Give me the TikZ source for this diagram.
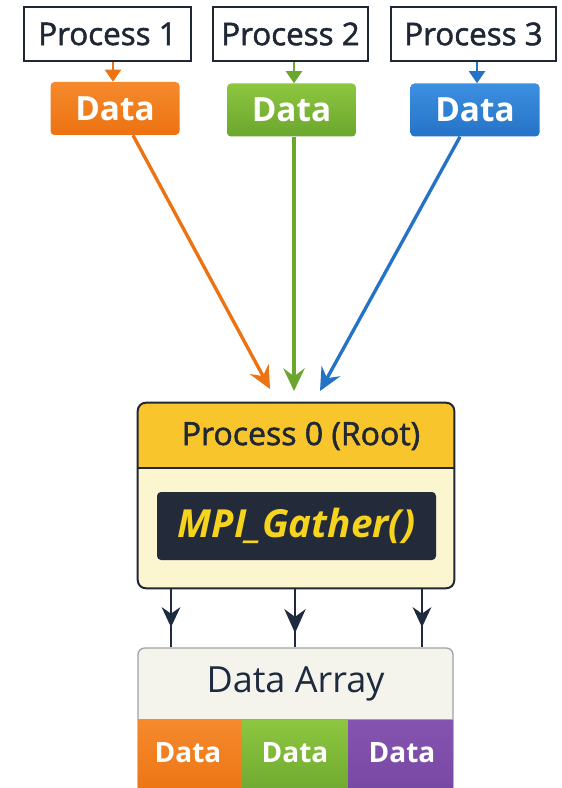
\documentclass[tikz,border=0pt]{standalone}
\usepackage{fontspec}
\setmainfont{Open Sans}
\newfontfamily\mediumfont[FakeBold=1.6]{Open Sans}
\usetikzlibrary{arrows.meta,decorations.markings,calc}

\definecolor{ink}{HTML}{1E2733}
\definecolor{navy}{HTML}{1E2A3E}
\definecolor{orangeA}{HTML}{F58A2C}
\definecolor{orangeB}{HTML}{EC7212}
\definecolor{greenA}{HTML}{8DC63F}
\definecolor{greenB}{HTML}{6BA62E}
\definecolor{blueA}{HTML}{3D8FE0}
\definecolor{blueB}{HTML}{2573C7}
\definecolor{purpleA}{HTML}{8554B0}
\definecolor{purpleB}{HTML}{7646A3}
\definecolor{rootHead}{HTML}{F8C52C}
\definecolor{rootBody}{HTML}{FBF5D0}
\definecolor{gatherBg}{HTML}{232B3B}
\definecolor{gatherTxt}{HTML}{F6D41E}
\definecolor{arrayBg}{HTML}{F4F4EC}
\definecolor{arrayLine}{HTML}{A2A2A2}

\tikzset{
  procbox/.style={draw=ink, line width=1.5pt, fill=white, inner sep=0pt,
    minimum height=0.75pt*54, text=ink, font=\mediumfont\fontsize{23.5}{27}\selectfont},
  databox/.style={rounded corners=3pt, inner sep=0pt, minimum width=0.75pt*129,
    minimum height=0.75pt*53, text=white, font=\bfseries\fontsize{25}{29}\selectfont},
  cellbox/.style={inner sep=0pt, minimum height=0.75pt*80},
  celltext/.style={text=white, font=\bfseries\fontsize{21}{25}\selectfont},
  feed/.style={line width=2.5pt, -{Stealth[length=17pt,width=16pt,inset=6pt]}},
  tick/.style={line width=1.5pt, -{Triangle[length=9pt,width=12pt]}},
  drop/.style={draw=navy, line width=1.6pt, postaction={decorate}},
}

\begin{document}
\begin{tikzpicture}[x=0.75pt,y=-0.75pt]
\clip (0,0) rectangle (561,788);
\fill[white] (0,0) rectangle (561,788);

% sending processes
\node[procbox, minimum width=0.75pt*167] (p1) at (107.5,34) {Process 1};
\node[procbox, minimum width=0.75pt*155] (p2) at (290.5,34) {Process 2};
\node[procbox, minimum width=0.75pt*165] (p3) at (473.5,34) {Process 3};

% local send buffers
\node[databox, top color=orangeA, bottom color=orangeB] (d1) at (115,108.5) {Data};
\node[databox, top color=greenA, bottom color=greenB] (d2) at (291.5,110) {Data};
\node[databox, top color=blueA, bottom color=blueB] (d3) at (475,110) {Data};

\draw[tick, orangeB] (p1.south -| 113,0) -- (d1.north -| 113,0);
\draw[tick, greenB] (p2.south -| 294,0) -- (d2.north -| 294,0);
\draw[tick, blueB] (p3.south -| 477,0) -- (d3.north -| 477,0);

% root process
\coordinate (t1) at (270,389);
\coordinate (t2) at (294,391);
\coordinate (t3) at (320,391);
\draw[feed, orangeB] ($(d1.south)+(18,0)$) -- (t1);
\draw[feed, greenB] (d2.south -| t2) -- (t2);
\draw[feed, blueB] ($(d3.south)+(-15,0)$) -- (t3);

\node[draw=none, fill=rootBody, rounded corners=6pt, minimum width=0.75pt*316,
  minimum height=0.75pt*185, inner sep=0pt] (root) at (296,495.5) {};
\begin{scope}
  \clip[rounded corners=6pt] (root.north west) rectangle (root.south east);
  \fill[rootHead] (root.north west) rectangle (454,468);
\end{scope}
\draw[ink, line width=1.5pt] (138,468) -- (454,468);
\draw[ink, line width=1.5pt, rounded corners=6pt] (root.north west) rectangle (root.south east);
\node[text=ink, font=\mediumfont\fontsize{24}{28}\selectfont] (title) at (301,436) {Process 0 (Root)};

\node[fill=gatherBg, rounded corners=3pt, minimum width=0.75pt*279, minimum height=0.75pt*68,
  inner sep=0pt, text=gatherTxt, font=\bfseries\itshape\fontsize{29}{33}\selectfont]
  (gather) at (296.5,526) {MPI\_Gather()};

% receive buffer
\node[fill=arrayBg, draw=arrayLine, line width=1pt, rounded corners=5pt,
  minimum width=0.75pt*315, minimum height=0.75pt*160, inner sep=0pt] (array) at (295.5,728) {};
\node[text=navy, font=\fontsize{27}{31}\selectfont] (arraylbl) at (295.5,684) {Data Array};
\node[cellbox, minimum width=0.75pt*104, top color=orangeA, bottom color=orangeB] (c1) at (190,760) {};
\node[cellbox, minimum width=0.75pt*106, top color=greenA, bottom color=greenB] (c2) at (295,760) {};
\node[cellbox, minimum width=0.75pt*105, top color=purpleA, bottom color=purpleB] (c3) at (400.5,760) {};
\draw[arrayLine, line width=1pt] (c1.north west) -- (c3.north east);
\node[celltext] (l1) at (188,753) {Data};
\node[celltext] (l2) at (295,753) {Data};
\node[celltext] (l3) at (402,753) {Data};

% gathered data flowing into the array
\coordinate (a1) at (171,588);
\coordinate (a2) at (295,588);
\coordinate (a3) at (422,588);
\draw[drop, decoration={markings, mark=at position 0.66 with {\arrow{Stealth[length=15pt,width=14pt]}}}]
  (a1) -- (a1 |- array.north);
\draw[drop, decoration={markings, mark=at position 0.76 with {\arrow{Stealth[length=18pt,width=16pt]}}}]
  (a2) -- (a2 |- array.north);
\draw[drop, decoration={markings, mark=at position 0.66 with {\arrow{Stealth[length=15pt,width=14pt]}}}]
  (a3) -- (a3 |- array.north);
\end{tikzpicture}
\end{document}
